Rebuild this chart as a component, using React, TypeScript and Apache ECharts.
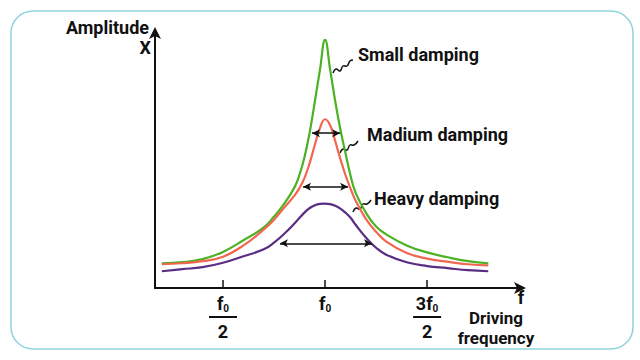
import React, { useEffect, useRef } from "react";
import * as echarts from "echarts";

// Driving frequency (in units of f0) where the curves were sampled
const freq = [0.2, 0.3, 0.4, 0.5, 0.6, 0.7, 0.75, 0.8, 0.85, 0.875, 0.9, 0.925, 0.95, 0.975, 1.0, 1.025, 1.05, 1.075, 1.1, 1.125, 1.15, 1.2, 1.25, 1.3, 1.4, 1.5, 1.6, 1.7, 1.8];
// Amplitude (0-100 scale)
const smallDamping = [9.6, 10.0, 11.2, 14.0, 18.5, 23.5, 27.7, 32.7, 39.0, 44.0, 51.0, 60.4, 72.3, 84.6, 96.2, 84.6, 72.3, 61.5, 52.3, 43.5, 36.9, 29.2, 23.8, 20.8, 16.5, 13.8, 11.9, 10.4, 9.6];
const mediumDamping = [9.2, 9.6, 10.4, 12.1, 16.5, 22.7, 26.5, 31.2, 35.8, 38.8, 42.8, 48.5, 55.5, 62.0, 65.4, 63.1, 56.9, 50.0, 43.8, 38.5, 33.8, 26.8, 21.8, 18.0, 13.6, 11.4, 10.2, 9.2, 8.8];
const heavyDamping = [6.5, 7.3, 8.1, 9.8, 12.3, 15.0, 17.6, 21.0, 25.0, 27.2, 29.3, 31.0, 32.1, 32.6, 32.7, 32.5, 31.9, 30.8, 29.2, 27.2, 24.5, 19.6, 15.6, 12.9, 10.0, 8.5, 7.7, 6.9, 6.5];

// Bandwidth arrows: [from f, to f, amplitude]
const widthArrows = [
  [0.936, 1.074, 60],
  [0.892, 1.113, 39.2],
  [0.779, 1.23, 17.3],
];

// Tick labels
const tickValues = [0.5, 1, 1.5];
const tickNumerators = ["f", "f", "3f"];
const tickDenominators = ["2", "", "2"];

const FONT = "Roboto, 'Noto Sans', sans-serif";

const pair = (ys: number[]) => freq.map((f, i) => [f, ys[i]]);

export default function App() {
  const ref = useRef<HTMLDivElement>(null);
  useEffect(() => {
    document.body.style.margin = "0";
    const chart = echarts.init(ref.current!, null, { renderer: "svg" });
    const txt = (text: string, x: number, y: number, align = "left", size = 18) => ({
      type: "text",
      x,
      y,
      silent: true,
      style: {
        text,
        fill: "#111",
        font: `bold ${size}px ${FONT}`,
        textAlign: align,
        textVerticalAlign: "middle",
      },
    });
    const squiggle = (pts: number[][]) => ({
      type: "polyline",
      silent: true,
      shape: { points: pts, smooth: 0.5 },
      style: { stroke: "#111", lineWidth: 1.5, fill: "none" },
    });
    const lineSeries = (name: string, ys: number[], color: string) => ({
      type: "line",
      name,
      data: pair(ys),
      smooth: 0.45,
      symbol: "none",
      lineStyle: { color, width: 2.2 },
    });
    chart.setOption({
      animation: false,
      backgroundColor: "#fff",
      grid: { left: 155, top: 30, width: 368, height: 258 },
      xAxis: {
        type: "value",
        min: (155 - 121) / 204,
        max: 1.97,
        splitLine: { show: false },
        axisLine: {
          show: true,
          lineStyle: { color: "#111", width: 2 },
          symbol: ["none", "arrow"],
          symbolSize: [9, 12],
          symbolOffset: [0, 3],
        },
        axisTick: {
          show: true,
          inside: true,
          length: 8,
          customValues: tickValues,
          lineStyle: { color: "#111", width: 1.5 },
        },
        axisLabel: {
          show: true,
          margin: 5,
          customValues: tickValues,
          formatter: (v: number) => {
            const i = tickValues.indexOf(v);
            if (i < 0) return "";
            const num = `{n|${tickNumerators[i]}}{s|0}`;
            return tickDenominators[i] ? `${num}\n{bar|}\n{d|${tickDenominators[i]}}` : num;
          },
          rich: {
            n: { fontSize: 18, fontWeight: "bold", fontFamily: FONT, color: "#111", lineHeight: 20 },
            s: { fontSize: 10, fontWeight: "bold", fontFamily: FONT, color: "#111", lineHeight: 10, verticalAlign: "bottom" },
            bar: { width: 28, height: 2, lineHeight: 8, backgroundColor: "#111" },
            d: { fontSize: 18, fontWeight: "bold", fontFamily: FONT, color: "#111", lineHeight: 20 },
          },
        },
      },
      yAxis: {
        type: "value",
        min: 0,
        max: 100,
        splitLine: { show: false },
        axisTick: { show: false },
        axisLabel: { show: false },
        axisLine: {
          show: true,
          lineStyle: { color: "#111", width: 2 },
          symbol: ["none", "arrow"],
          symbolSize: [9, 12],
          symbolOffset: [0, 3],
        },
      },
      series: [
        lineSeries("Small damping", smallDamping, "#4cb224"),
        lineSeries("Madium damping", mediumDamping, "#f2664f"),
        {
          ...lineSeries("Heavy damping", heavyDamping, "#5a2d82"),
          markLine: {
            silent: true,
            symbol: ["arrow", "arrow"],
            symbolSize: [6, 8],
            label: { show: false },
            lineStyle: { color: "#111", width: 1.5, type: "solid" },
            data: widthArrows.map(([a, b, y]) => [{ coord: [a, y] }, { coord: [b, y] }]),
          },
        },
      ],
      graphic: [
        {
          type: "rect",
          silent: true,
          shape: { x: 11, y: 11, width: 622, height: 338, r: 22 },
          style: { fill: "none", stroke: "#8fd3dc", lineWidth: 1.5 },
        },
        txt("Amplitude", 149, 27, "right"),
        txt("X", 151, 47, "right"),
        txt("f", 521, 297, "center"),
        txt("Driving", 496, 318, "center", 17),
        txt("frequency", 496, 338, "center", 17),
        txt("Small damping", 358, 54, "left"),
        txt("Madium damping", 367, 134, "left"),
        txt("Heavy damping", 374, 198, "left"),
        squiggle([[333, 73], [336, 69], [340, 71], [343, 66], [347, 66], [350, 61], [353, 60]]),
        squiggle([[340, 153], [343, 149], [347, 150], [350, 145], [354, 145], [358, 141]]),
        squiggle([[353, 212], [356, 208], [360, 209], [363, 204], [367, 204], [371, 200]]),
      ],
    });
    return () => chart.dispose();
  }, []);
  return <div ref={ref} style={{ width: 640, height: 360 }} />;
}
